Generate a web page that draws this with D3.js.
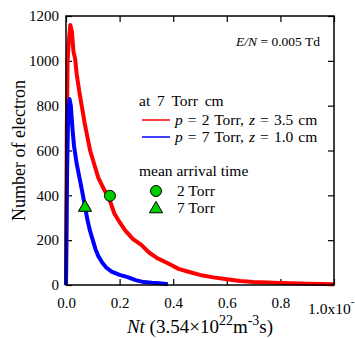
<!DOCTYPE html>
<html>
<head>
<meta charset="utf-8">
<script src="https://d3js.org/d3.v7.min.js"></script>
<style>
  body { margin: 0; background: #fff; }
  svg, svg text { font-family: "Liberation Serif", "Times New Roman", Times, serif; }
</style>
</head>
<body>
<script>
// electron arrival distribution
var redX = [0, 0.003, 0.006, 0.010, 0.016, 0.022, 0.028, 0.034, 0.040, 0.050, 0.060, 0.070, 0.080, 0.090, 0.100,
            0.120, 0.140, 0.160, 0.180, 0.200, 0.220, 0.250, 0.280, 0.310, 0.340, 0.380, 0.420, 0.460, 0.500,
            0.550, 0.600, 0.650, 0.700, 0.800, 0.900, 1.000];
var redY = [0, 700, 1000, 1080, 1160, 1130, 1040, 1010, 940, 860, 790, 720, 660, 600, 560,
            480, 430, 390, 320, 280, 245, 205, 180, 145, 120, 97, 72, 58, 45,
            34, 26, 18, 13, 9, 6, 3];
var blueX = [0, 0.004, 0.008, 0.013, 0.018, 0.024, 0.030, 0.040, 0.050, 0.060, 0.071, 0.080, 0.090, 0.100,
             0.110, 0.120, 0.135, 0.150, 0.170, 0.200, 0.230, 0.260, 0.290, 0.320, 0.350, 0.380];
var blueY = [0, 500, 760, 830, 800, 700, 620, 540, 480, 420, 350, 290, 240, 200,
             160, 130, 100, 78, 60, 45, 35, 22, 13, 10, 8, 3];

// mean arrival time markers
var meanLabels = ["2 Torr", "7 Torr"];
var meanX = [0.164, 0.071];
var meanY = [398, 350];

var xTicks = [0, 0.2, 0.4, 0.6, 0.8, 1.0];
var yTicks = [0, 200, 400, 600, 800, 1000, 1200];

var legendLabels = ["p = 2 Torr, z = 3.5 cm", "p = 7 Torr, z = 1.0 cm"];

window.onload = function(){

    var serif = "'Liberation Serif', 'Times New Roman', Times, serif";
    var margin = { top: 16, right: 21, bottom: 53, left: 66 };
    var width = 355 - margin.left - margin.right;
    var height = 338 - margin.top - margin.bottom;

    var root = d3.select("body")
      .append("svg")
        .attr("width", 355)
        .attr("height", 338)
        .attr("font-family", serif);

    var svg = root.append("g")
        .attr("transform", "translate(" + margin.left + "," + margin.top + ")");

    var xscale = d3.scaleLinear().domain([0, 1]).range([0, width]);
    var yscale = d3.scaleLinear().domain([0, 1200]).range([height, 0]);

    // ticks point inward on every side
    var xAxis = d3.axisBottom(xscale).tickValues(xTicks).tickSizeInner(-6).tickSizeOuter(0)
      .tickPadding(12).tickFormat(function(d) { return d === 1 ? "" : d3.format(".1f")(d); });
    var yAxis = d3.axisLeft(yscale).tickValues(yTicks).tickSizeInner(-6).tickSizeOuter(0)
      .tickPadding(7).tickFormat(d3.format("d"));
    var xTop = d3.axisTop(xscale).tickValues(xTicks).tickSizeInner(-6).tickSizeOuter(0).tickFormat("");
    var yRight = d3.axisRight(yscale).tickValues(yTicks).tickSizeInner(-6).tickSizeOuter(0).tickFormat("");

    svg.append("g").attr("transform", "translate(0," + height + ")").call(xAxis);
    svg.append("g").call(yAxis);
    svg.append("g").call(xTop);
    svg.append("g").attr("transform", "translate(" + width + ",0)").call(yRight);

    svg.selectAll(".domain").remove();
    svg.selectAll("g").attr("font-family", serif);
    svg.selectAll(".tick line").attr("stroke", "#000").attr("stroke-width", 1.2);
    svg.selectAll(".tick text").attr("fill", "#000").attr("font-size", 15);

    // last x label carries the exponent, sits a bit lower and runs off the edge
    var lastLab = svg.append("text")
      .attr("x", xscale(1) - 26)
      .attr("y", height + 29)
      .style("font-size", "15.5px")
      .text("1.0x10");
    lastLab.append("tspan").attr("dy", -9).style("font-size", "11px").text("-1");

    // the curves
    var line = d3.line()
      .x(function(d) { return xscale(d[0]); })
      .y(function(d) { return yscale(d[1]); });

    var red = redX.map(function(x, i) { return [x, redY[i]]; });
    var blue = blueX.map(function(x, i) { return [x, blueY[i]]; });

    svg.append("path").datum(red)
      .attr("d", line).attr("fill", "none").attr("stroke", "#ff0000")
      .attr("stroke-width", 4).attr("stroke-linejoin", "round");
    svg.append("path").datum(blue)
      .attr("d", line).attr("fill", "none").attr("stroke", "#0000ff")
      .attr("stroke-width", 4).attr("stroke-linejoin", "round");

    // frame
    svg.append("rect")
      .attr("width", width).attr("height", height)
      .attr("fill", "none").attr("stroke", "#000").attr("stroke-width", 1.5);

    // mean arrival markers
    var tri = d3.symbol().type(d3.symbolTriangle).size(75);
    svg.append("circle")
      .attr("cx", xscale(meanX[0])).attr("cy", yscale(meanY[0])).attr("r", 5.5)
      .attr("fill", "#00cc00").attr("stroke", "#000").attr("stroke-width", 1);
    svg.append("path")
      .attr("d", tri)
      .attr("transform", "translate(" + xscale(meanX[1]) + "," + (yscale(meanY[1]) + 1) + ")")
      .attr("fill", "#00cc00").attr("stroke", "#000").attr("stroke-width", 1);

    // E/N note
    var en = root.append("text").attr("x", 320).attr("y", 46)
      .attr("text-anchor", "end").style("font-size", "13.5px");
    en.append("tspan").style("font-style", "italic").text("E/N");
    en.append("tspan").text(" = 0.005 Td");

    // legend
    var lg = root.append("g").style("font-size", "15.5px");
    lg.append("text").attr("x", 139).attr("y", 106).attr("word-spacing", 3).text("at 7 Torr cm");
    var colors = ["#ff0000", "#0000ff"];
    legendLabels.forEach(function(lab, i) {
      var yy = 120 + i * 17;
      lg.append("line").attr("x1", 142).attr("x2", 170).attr("y1", yy).attr("y2", yy)
        .attr("stroke", colors[i]).attr("stroke-width", 1.5);
      var parts = lab.split(", ");
      var t = lg.append("text").attr("x", 175).attr("y", yy + 5).attr("word-spacing", 1.2);
      t.append("tspan").style("font-style", "italic").text(parts[0].slice(0, 1));
      t.append("tspan").text(parts[0].slice(1) + ", ");
      t.append("tspan").style("font-style", "italic").text(parts[1].slice(0, 1));
      t.append("tspan").text(parts[1].slice(1));
    });

    lg.append("text").attr("x", 139).attr("y", 176).text("mean arrival time");
    lg.append("circle").attr("cx", 156).attr("cy", 191).attr("r", 5.5)
      .attr("fill", "#00cc00").attr("stroke", "#000");
    lg.append("path").attr("d", tri).attr("transform", "translate(156,209)")
      .attr("fill", "#00cc00").attr("stroke", "#000");
    lg.append("text").attr("x", 177).attr("y", 196).text(meanLabels[0]);
    lg.append("text").attr("x", 177).attr("y", 213).text(meanLabels[1]);

    // axis titles
    root.append("text")
      .attr("transform", "translate(25," + (margin.top + height / 2) + ") rotate(-90)")
      .attr("text-anchor", "middle")
      .style("font-size", "18px")
      .text("Number of electron");

    var xt = root.append("text")
      .attr("x", margin.left + width / 2)
      .attr("y", 333)
      .attr("text-anchor", "middle")
      .style("font-size", "19px");
    xt.append("tspan").style("font-style", "italic").text("Nt");
    xt.append("tspan").text(" (3.54\u00d710");
    xt.append("tspan").attr("dy", -8).style("font-size", "14px").text("22");
    xt.append("tspan").attr("dy", 8).text("m");
    xt.append("tspan").attr("dy", -8).style("font-size", "14px").text("-3");
    xt.append("tspan").attr("dy", 8).text("s)");
};
</script>
</body>
</html>
